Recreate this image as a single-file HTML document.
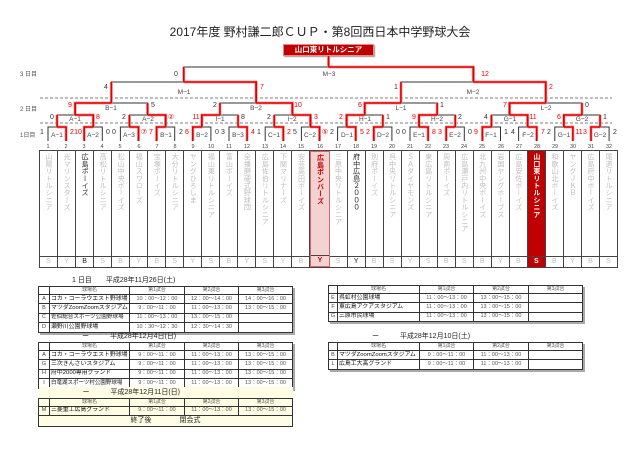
<!DOCTYPE html>
<html><head><meta charset="utf-8">
<style>
*{margin:0;padding:0;box-sizing:border-box}
body{width:640px;height:452px;background:#fff;position:relative;overflow:hidden;font-family:"Liberation Sans","Noto Sans CJK JP",sans-serif;color:#222}
.abs{position:absolute}
#title{left:0;width:640px;top:23px;text-align:center;font-size:12px;color:#222}
#champ{left:283px;top:44px;width:91px;height:12px;background:#c00000;border:1px solid #e88;color:#fff;font-size:7.5px;font-weight:bold;text-align:center;line-height:10px;box-shadow:1px 1px 1px #999}
#cols{left:39px;top:150px;width:579px;height:118px;display:flex;border:1px solid #444;border-right:none}
.c{flex:1;border-right:1px solid #444;position:relative;background:#fff}
.c .n{position:absolute;left:0;right:0;top:2px;height:104px;writing-mode:vertical-rl;font-size:7px;line-height:17px;color:#bdbdbd;letter-spacing:0.2px;text-align:left}
.c .l{position:absolute;left:0;right:0;bottom:0;height:11px;border-top:1px solid #444;text-align:center;font-size:7px;line-height:10px;color:#bdbdbd}
.c.dk .n,.c.dk .l{color:#222}
.c.pk{background:#f3d2d2;border:1px solid #d66}
.c.pk .n,.c.pk .l{color:#c00;font-weight:bold}
.c.rd{background:#c00000}
.c.rd .n,.c.rd .l{color:#fff;font-weight:bold}
table{border-collapse:collapse;table-layout:fixed;position:absolute;box-shadow:2px 2px 0 #aaa}
td{border:1px solid #333;font-size:5.5px;line-height:7px;color:#555;text-align:center;padding:0;white-space:nowrap;overflow:hidden}
td.v{text-align:left;font-size:5.9px;color:#111;padding-left:1px}
td.k{font-size:5.5px;color:#444}
tr.h td{height:8px;font-size:5px}
tr.r td{height:9.4px}
.ttl{font-size:7px;line-height:8px;color:#222;white-space:nowrap}
.y td{background:#fffde3}
</style></head><body>
<div id="title" class="abs">2017年度 野村謙二郎ＣＵＰ・第8回西日本中学野球大会</div>
<div id="champ" class="abs">山口東リトルシニア</div>

<svg class="abs" style="left:0;top:0" width="640" height="150" id="br">
<g stroke="#555" stroke-width="0.8" stroke-dasharray="3,2"><line x1="40" y1="98" x2="612" y2="98"/><line x1="40" y1="123" x2="612" y2="123"/></g>
<g id="lines" fill="none"></g>
<g font-size="6" fill="#555" font-family="Liberation Sans,Noto Sans CJK JP,sans-serif">
<text x="20" y="76">3 日目</text><text x="20" y="111">2 日目</text><text x="20" y="137">1日目</text>
</g>
<g font-size="6.5" fill="#444" text-anchor="middle" font-family="Liberation Sans,sans-serif">
<text x="57" y="137">A−1</text><text x="93" y="137">A−2</text><text x="129" y="137">A−3</text><text x="166" y="137">B−1</text><text x="202" y="137">B−2</text><text x="238" y="137">B−3</text><text x="274" y="137">C−1</text><text x="310" y="137">C−2</text><text x="347" y="137">D−1</text><text x="383" y="137">D−2</text><text x="419" y="137">E−1</text><text x="455" y="137">E−2</text><text x="491" y="137">F−1</text><text x="528" y="137">F−2</text><text x="564" y="137">G−1</text><text x="600" y="137">G−2</text>
<text x="75" y="121">A−1</text><text x="148" y="121">A−2</text><text x="220" y="121">I−1</text><text x="292" y="121">I−2</text><text x="365" y="121">H−1</text><text x="437" y="121">H−2</text><text x="510" y="121">G−1</text><text x="582" y="121">G−2</text>
<text x="111" y="110">B−1</text><text x="256" y="110">B−2</text><text x="401" y="110">L−1</text><text x="546" y="110">L−2</text>
<text x="184" y="94">M−1</text><text x="473" y="94">M−2</text><text x="329" y="76">M−3</text>
</g>
<g font-size="7" text-anchor="middle" font-family="Liberation Sans,sans-serif" fill="#333">
<text x="42" y="134">1</text><text x="72" y="134" fill="#e00">2</text>
<text x="78" y="134" fill="#e00">10</text><text x="108" y="134">0</text>
<text x="114" y="134">0</text><text x="144" y="134" fill="#e00">⑦</text>
<text x="151" y="134" fill="#e00">7</text><text x="181" y="134">2</text>
<text x="187" y="134" fill="#e00">6</text><text x="217" y="134">0</text>
<text x="223" y="134">3</text><text x="253" y="134" fill="#e00">4</text>
<text x="259" y="134">1</text><text x="289" y="134" fill="#e00">2</text>
<text x="295" y="134">5</text><text x="325" y="134" fill="#e00">⑤</text>
<text x="332" y="134">2</text><text x="362" y="134" fill="#e00">5</text>
<text x="368" y="134" fill="#e00">2</text><text x="398" y="134">0</text>
<text x="404" y="134">0</text><text x="434" y="134" fill="#e00">8</text>
<text x="440" y="134" fill="#e00">3</text><text x="470" y="134">0</text>
<text x="476" y="134" fill="#e00">9</text><text x="506" y="134">1</text>
<text x="513" y="134">4</text><text x="543" y="134" fill="#e00">7</text>
<text x="549" y="134">2</text><text x="579" y="134" fill="#e00">11</text>
<text x="585" y="134" fill="#e00">3</text><text x="615" y="134">2</text>
<text x="52" y="119">0</text><text x="98" y="119" fill="#e00">8</text>
<text x="124" y="119">2</text><text x="171" y="119" fill="#e00">②</text>
<text x="196" y="119" fill="#e00">11</text><text x="243" y="119">8</text>
<text x="269" y="119">2</text><text x="316" y="119" fill="#e00">3</text>
<text x="341" y="119" fill="#e00">2</text><text x="388" y="119">1</text>
<text x="414" y="119" fill="#e00">9</text><text x="460" y="119">2</text>
<text x="486" y="119">4</text><text x="533" y="119" fill="#e00">11</text>
<text x="559" y="119" fill="#e00">6</text><text x="605" y="119">1</text>
<text x="70" y="107" fill="#e00">9</text><text x="153" y="107">5</text>
<text x="215" y="107">2</text><text x="298" y="107" fill="#e00">10</text>
<text x="360" y="107" fill="#e00">6</text><text x="442" y="107">1</text>
<text x="505" y="107" fill="#e00">7</text><text x="587" y="107">0</text>
<text x="106" y="89">4</text><text x="262" y="89" fill="#e00">7</text>
<text x="396" y="89">1</text><text x="551" y="89" fill="#e00">2</text>
<text x="176" y="76">0</text><text x="485" y="76" fill="#e00">12</text>
</g>
<g font-size="5.5" fill="#444" text-anchor="middle" font-family="Liberation Sans,sans-serif">
<text x="48" y="148">1</text><text x="66" y="148">2</text><text x="84" y="148">3</text><text x="102" y="148">4</text><text x="120" y="148">5</text><text x="139" y="148">6</text><text x="157" y="148">7</text><text x="175" y="148">8</text><text x="193" y="148">9</text><text x="211" y="148">10</text><text x="229" y="148">11</text><text x="247" y="148">12</text><text x="265" y="148">13</text><text x="283" y="148">14</text><text x="301" y="148">15</text><text x="320" y="148">16</text><text x="338" y="148">17</text><text x="356" y="148">18</text><text x="374" y="148">19</text><text x="392" y="148">20</text><text x="410" y="148">21</text><text x="428" y="148">22</text><text x="446" y="148">23</text><text x="464" y="148">24</text><text x="482" y="148">25</text><text x="501" y="148">26</text><text x="519" y="148">27</text><text x="537" y="148">28</text><text x="555" y="148">29</text><text x="573" y="148">30</text><text x="591" y="148">31</text><text x="609" y="148">32</text>
</g>
</svg>
<script>
(function(){
var g=document.getElementById('lines'),ns='http://www.w3.org/2000/svg';
function P(d,c,w){var p=document.createElementNS(ns,'path');p.setAttribute('d',d);p.setAttribute('stroke',c);p.setAttribute('stroke-width',w);p.setAttribute('fill','none');g.appendChild(p);}
var pos=[];for(var i=0;i<32;i++)pos.push(48+18.1*i);
var ys=[141,127,115,103,82,67];
var win=["RLRLLRRRRLRLLRRL","RRLRLLRL","LRLL","RR","R"];
var reds=[];
for(var l=0;l<5;l++){var y=ys[l+1],yc=ys[l],np=[];
 for(var k=0;k<pos.length/2;k++){var L=pos[2*k],R=pos[2*k+1],M=(L+R)/2;
  P('M'+L+' '+yc+'V'+y+'H'+R+'V'+yc,'#333',1);
  var W=win[l][k]=='L'?L:R;
  if(l>0){reds.push('M'+L+' '+yc+'V'+y);reds.push('M'+R+' '+yc+'V'+y);}
  reds.push('M'+W+' '+yc+'V'+y+'H'+M);
  np.push(M);}
 pos=np;}
reds.push('M'+pos[0]+' 67V56');
reds.forEach(function(d){P(d,'#f6a0a0',3);});
reds.forEach(function(d){P(d,'#e00000',1.6);});
})();
</script>

<div id="cols" class="abs">
<div class="c"><div class="n">山陽リトルシニア</div><div class="l">S</div></div>
<div class="c"><div class="n">光マリンスターズ</div><div class="l">Y</div></div>
<div class="c dk"><div class="n">広島ボーイズ</div><div class="l">B</div></div>
<div class="c"><div class="n">高松リトルシニア</div><div class="l">S</div></div>
<div class="c"><div class="n">松山中央ボーイズ</div><div class="l">B</div></div>
<div class="c"><div class="n">福山スワローズ</div><div class="l">Y</div></div>
<div class="c"><div class="n">宝塚ボーイズ</div><div class="l">B</div></div>
<div class="c"><div class="n">大分リトルシニア</div><div class="l">S</div></div>
<div class="c"><div class="n">ヤングひろしま</div><div class="l">Y</div></div>
<div class="c"><div class="n">福山東リトルシニア</div><div class="l">S</div></div>
<div class="c"><div class="n">富山ボーイズ</div><div class="l">B</div></div>
<div class="c"><div class="n">全播磨硬式野球団</div><div class="l">Y</div></div>
<div class="c"><div class="n">広島佐伯リトルシニア</div><div class="l">S</div></div>
<div class="c"><div class="n">下関マリナーズ</div><div class="l">Y</div></div>
<div class="c"><div class="n">安芸高田ボーイズ</div><div class="l">B</div></div>
<div class="c pk"><div class="n">広島ボンバーズ</div><div class="l">Y</div></div>
<div class="c"><div class="n">三原中央リトルシニア</div><div class="l">S</div></div>
<div class="c dk"><div class="n">府中広島２０００</div><div class="l">Y</div></div>
<div class="c"><div class="n">別府ボーイズ</div><div class="l">B</div></div>
<div class="c"><div class="n">呉中央リトルシニア</div><div class="l">S</div></div>
<div class="c"><div class="n">ＳＡダイヤモンズ</div><div class="l">Y</div></div>
<div class="c"><div class="n">東広島リトルシニア</div><div class="l">S</div></div>
<div class="c"><div class="n">周南ボーイズ</div><div class="l">B</div></div>
<div class="c"><div class="n">広島瀬戸内リトルシニア</div><div class="l">S</div></div>
<div class="c"><div class="n">北九州中央ボーイズ</div><div class="l">B</div></div>
<div class="c"><div class="n">岩国ヤングホープス</div><div class="l">Y</div></div>
<div class="c"><div class="n">広島安佐ボーイズ</div><div class="l">B</div></div>
<div class="c rd"><div class="n">山口東リトルシニア</div><div class="l">S</div></div>
<div class="c"><div class="n">和歌山北ボーイズ</div><div class="l">B</div></div>
<div class="c"><div class="n">ヤングＪＫＢ</div><div class="l">Y</div></div>
<div class="c"><div class="n">広島府中ボーイズ</div><div class="l">B</div></div>
<div class="c"><div class="n">尾道リトルシニア</div><div class="l">S</div></div>
</div>

<div class="abs ttl" style="left:72px;top:277px">1 日目　　平成28年11月26日(土)</div>
<table style="left:38px;top:286px;width:254px">
<colgroup><col style="width:11px"><col style="width:80px"><col style="width:55px"><col style="width:54px"><col style="width:54px"></colgroup>
<tr class="h"><td></td><td>球場名</td><td>第1試合</td><td>第2試合</td><td>第3試合</td></tr>
<tr class="r"><td class="k">A</td><td class="v">コカ・コーラウエスト野球場</td><td>10：00〜12：00</td><td>12：00〜14：00</td><td>14：00〜16：00</td></tr>
<tr class="r"><td class="k">B</td><td class="v">マツダZoomZoomスタジアム</td><td>9：00〜11：00</td><td>11：00〜13：00</td><td>13：00〜15：00</td></tr>
<tr class="r"><td class="k">C</td><td class="v" style="font-size:5.6px">佐伯総合スポーツ公園野球場</td><td>11：00〜13：00</td><td>13：00〜15：00</td><td></td></tr>
<tr class="r"><td class="k">D</td><td class="v">瀬野川公園野球場</td><td>10：30〜12：30</td><td>12：30〜14：30</td><td></td></tr>
</table>

<div class="abs ttl" style="left:82px;top:333px">ー　　　平成28年12月4日(日)</div>
<table style="left:38px;top:342px;width:254px">
<colgroup><col style="width:11px"><col style="width:80px"><col style="width:55px"><col style="width:54px"><col style="width:54px"></colgroup>
<tr class="h"><td></td><td>球場名</td><td>第1試合</td><td>第2試合</td><td>第3試合</td></tr>
<tr class="r"><td class="k">A</td><td class="v">コカ・コーラウエスト野球場</td><td>9：00〜11：00</td><td>11：00〜13：00</td><td>13：00〜15：00</td></tr>
<tr class="r"><td class="k">G</td><td class="v">三次きんさいスタジアム</td><td>9：00〜11：00</td><td>11：00〜13：00</td><td>13：00〜15：00</td></tr>
<tr class="r"><td class="k">H</td><td class="v">府中2000専用グランド</td><td>9：00〜11：00</td><td>11：00〜13：00</td><td>13：00〜15：00</td></tr>
<tr class="r"><td class="k">I</td><td class="v" style="font-size:5.5px">白竜湖スポーツ村公園野球場</td><td>9：00〜11：00</td><td>11：00〜13：00</td><td>13：00〜15：00</td></tr>
</table>
<table class="y" style="left:38px;top:387px;width:254px;box-shadow:none">
<colgroup><col style="width:11px"><col style="width:80px"><col style="width:55px"><col style="width:54px"><col style="width:54px"></colgroup>
<tr><td colspan="5" style="height:11px;border:none;text-align:left;padding-left:44px;font-size:7px;color:#222">ー　　　平成28年12月11日(日)</td></tr>
<tr class="h"><td></td><td>球場名</td><td>第1試合</td><td>第2試合</td><td>第3試合</td></tr>
<tr class="r"><td class="k">M</td><td class="v">三菱重工広島グランド</td><td>9：00〜11：00</td><td>11：00〜13：00</td><td>13：00〜15：00</td></tr>
<tr><td colspan="5" style="height:11px;font-size:7px;color:#222">終了後　　　　閉会式</td></tr>
</table>

<table style="left:328px;top:285px;width:254px">
<colgroup><col style="width:9px"><col style="width:82px"><col style="width:54px"><col style="width:55px"><col style="width:54px"></colgroup>
<tr class="h"><td></td><td>球場名</td><td>第1試合</td><td>第2試合</td><td>第3試合</td></tr>
<tr class="r"><td class="k">E</td><td class="v">呉虹村公園球場</td><td>11：00〜13：00</td><td>13：00〜15：00</td><td></td></tr>
<tr class="r"><td class="k">F</td><td class="v">東広島アクアスタジアム</td><td>11：00〜13：00</td><td>13：00〜15：00</td><td></td></tr>
<tr class="r"><td class="k">G</td><td class="v">三原市民球場</td><td>11：00〜13：00</td><td>13：00〜15：00</td><td></td></tr>
</table>
<div class="abs ttl" style="left:372px;top:333px">ー　　　平成28年12月10日(土)</div>
<table style="left:328px;top:342px;width:254px">
<colgroup><col style="width:9px"><col style="width:82px"><col style="width:54px"><col style="width:55px"><col style="width:54px"></colgroup>
<tr class="h"><td></td><td>球場名</td><td>第1試合</td><td>第2試合</td><td>第3試合</td></tr>
<tr class="r"><td class="k">B</td><td class="v">マツダZoomZoomスタジアム</td><td>9：00〜11：00</td><td>11：00〜13：00</td><td></td></tr>
<tr class="r"><td class="k">L</td><td class="v">広島工大高グランド</td><td>9：00〜11：00</td><td>11：00〜13：00</td><td></td></tr>
</table>
</body></html>
